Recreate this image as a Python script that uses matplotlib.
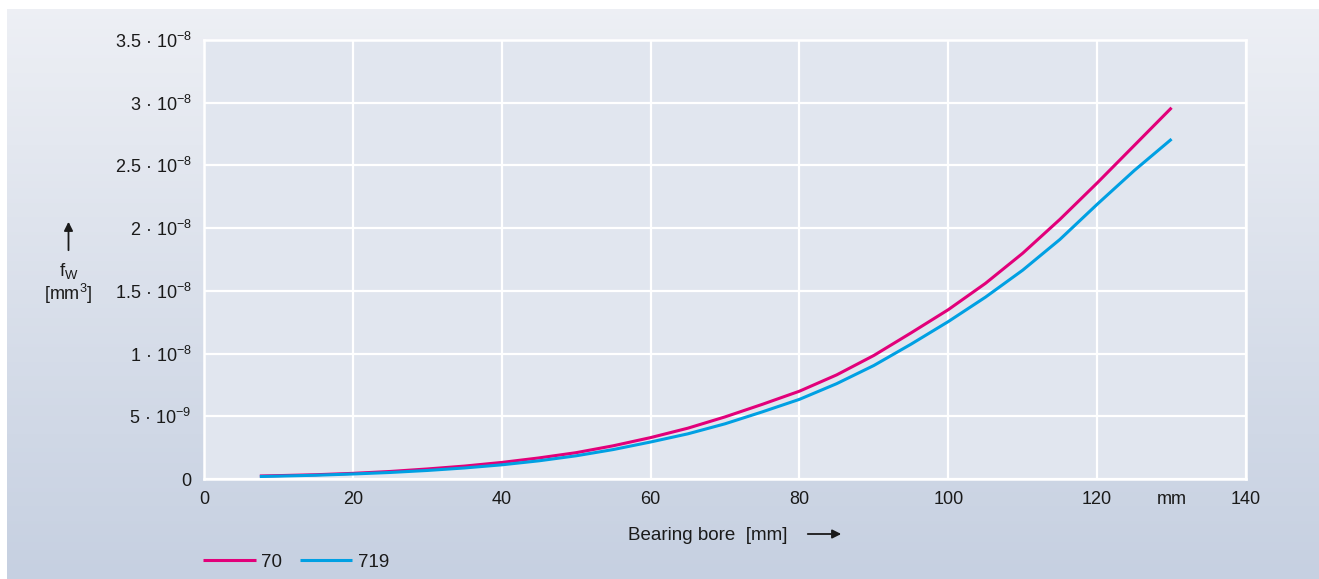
import numpy as np
import matplotlib
matplotlib.use("Agg")
import matplotlib.pyplot as plt
from matplotlib.ticker import FixedLocator, FixedFormatter

plt.rcParams['font.family'] = ['Liberation Sans', 'DejaVu Sans']
plt.rcParams['mathtext.fontset'] = 'custom'
plt.rcParams['mathtext.rm'] = 'Liberation Sans'
plt.rcParams['mathtext.it'] = 'Liberation Sans:italic'
plt.rcParams['mathtext.default'] = 'regular'

# ---------------- data ----------------
bore = [7.5, 10, 15, 20, 25, 30, 35, 40, 45, 50, 55, 60, 65, 70, 75, 80,
        85, 90, 95, 100, 105, 110, 115, 120, 125, 130]
fw_70 = [0.024, 0.027, 0.034, 0.045, 0.060, 0.080, 0.103, 0.132, 0.168, 0.210,
         0.265, 0.330, 0.405, 0.495, 0.595, 0.700, 0.830, 0.985, 1.165, 1.350,
         1.560, 1.800, 2.070, 2.360, 2.660, 2.960]
fw_719 = [0.020, 0.023, 0.030, 0.040, 0.052, 0.068, 0.088, 0.113, 0.145, 0.185,
          0.235, 0.295, 0.360, 0.440, 0.535, 0.635, 0.760, 0.905, 1.075, 1.255,
          1.450, 1.665, 1.910, 2.190, 2.460, 2.710]
scale = 1e-8
series_names = ["70", "719"]
series_colors = ["#e2007a", "#00a0e3"]

x_ticks = [0, 20, 40, 60, 80, 100, 120, 140]
x_ticklabels = ["0", "20", "40", "60", "80", "100", "120", "140"]
y_ticks = [0, 0.5e-8, 1e-8, 1.5e-8, 2e-8, 2.5e-8, 3e-8, 3.5e-8]
y_ticklabels = ["0", "5 · 10$^{-9}$", "1 · 10$^{-8}$", "1.5 · 10$^{-8}$",
                "2 · 10$^{-8}$", "2.5 · 10$^{-8}$", "3 · 10$^{-8}$", "3.5 · 10$^{-8}$"]
x_unit_pos = 130
x_unit_label = "mm"
x_label = "Bearing bore  [mm]"

# ---------------- figure ----------------
W, H = 1319, 579
fig = plt.figure(figsize=(W / 100, H / 100), dpi=100)
fig.patch.set_facecolor("white")

# gradient background
bg = fig.add_axes([0, 0, 1, 1], zorder=-10)
top = np.array([0xee, 0xf0, 0xf5]) / 255
bot = np.array([0xc6, 0xd0, 0xe1]) / 255
t = np.linspace(0, 1, H)[:, None, None]
img = top * (1 - t) + bot * t
img = np.repeat(img, W, axis=1)
img[:9, :, :] = 1.0
img[:, :7, :] = 1.0
bg.imshow(img, aspect="auto", extent=[0, 1, 0, 1], origin="upper")
bg.set_axis_off()

def fx(px):
    return px / W

def fy(py):
    return 1 - py / H

ax = fig.add_axes([fx(204), fy(479), fx(1246) - fx(204), fy(40) - fy(479)])
ax.set_facecolor("#e1e6ef")

lines = []
for vals, name, col in zip([fw_70, fw_719], series_names, series_colors):
    ln, = ax.plot(bore, np.array(vals) * scale, color=col, lw=2.2,
                  solid_capstyle="butt", solid_joinstyle="round",
                  label=name, zorder=3)
    lines.append(ln)

ax.set_xlim(0, 140)
ax.set_ylim(0, 3.5e-8)
ax.xaxis.set_major_locator(FixedLocator(x_ticks))
ax.xaxis.set_major_formatter(FixedFormatter(x_ticklabels))
ax.xaxis.set_minor_locator(FixedLocator([x_unit_pos]))
ax.xaxis.set_minor_formatter(FixedFormatter([x_unit_label]))
ax.yaxis.set_major_locator(FixedLocator(y_ticks))
ax.yaxis.set_major_formatter(FixedFormatter(y_ticklabels))

ax.grid(True, which="major", color="white", lw=1.6, zorder=1)
ax.set_axisbelow(True)
for s in ax.spines.values():
    s.set_color("white")
    s.set_linewidth(1.8)

ax.tick_params(axis="both", which="both", length=0, labelsize=13,
               colors="#1a1a1a")
ax.tick_params(axis="x", which="both", pad=9)
ax.tick_params(axis="y", which="both", pad=9)

# x label with arrow
fig.text(fx(628), fy(535), x_label, ha="left", va="center", fontsize=13.5,
         color="#1a1a1a")
fig.add_artist(matplotlib.patches.FancyArrowPatch(
    (fx(805), fy(534)), (fx(844), fy(534)), transform=fig.transFigure,
    arrowstyle="-|>", mutation_scale=13, lw=1.3, color="#1a1a1a"))

# y label with arrow
fig.add_artist(matplotlib.patches.FancyArrowPatch(
    (fx(68.5), fy(253)), (fx(68.5), fy(219)), transform=fig.transFigure,
    arrowstyle="-|>", mutation_scale=13, lw=1.3, color="#1a1a1a"))
fig.text(fx(68.5), fy(271), "f$_{W}$", ha="center", va="center",
         fontsize=13.5, color="#1a1a1a")
fig.text(fx(68.5), fy(294), "[mm$^{3}$]", ha="center", va="center",
         fontsize=13, color="#1a1a1a")

# legend
fig.legend(handles=lines, labels=series_names, loc="center left",
           bbox_to_anchor=(fx(203), fy(562)), frameon=False, ncol=2,
           fontsize=13.5, handlelength=2.8, handletextpad=0.3,
           columnspacing=0.95, borderpad=0, borderaxespad=0,
           labelcolor="#1a1a1a")

fig.savefig("out.png", dpi=100, facecolor=fig.get_facecolor())
